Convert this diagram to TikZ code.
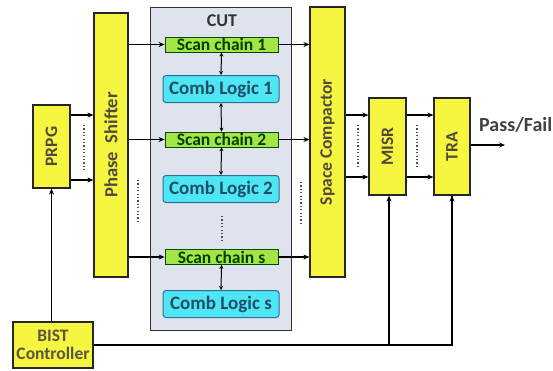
\documentclass[tikz,border=0pt]{standalone}
\usepackage{fontspec}
\setmainfont{Carlito}
\usetikzlibrary{arrows.meta}
\definecolor{ylw}{HTML}{F6F53F}
\definecolor{grn}{HTML}{A4E545}
\definecolor{cyn}{HTML}{4EE6F2}
\definecolor{cutbg}{HTML}{DEE3EE}
\definecolor{cyb}{HTML}{2E6F95}
\begin{document}
\begin{tikzpicture}[x=1pt,y=-1pt,
  ybox/.style={draw=black!85,line width=1.2pt,fill=ylw,inner sep=0pt,font=\bfseries,text=black!80!yellow},
  scbox/.style={draw=black!70!green,line width=0.8pt,fill=grn,minimum width=113pt,minimum height=15pt,inner sep=0pt,font=\bfseries\fontsize{17.5}{17.5}\selectfont,text=black!75!green},
  clbox/.style={draw=cyb,line width=1pt,fill=cyn,rounded corners=3pt,minimum width=116pt,minimum height=27pt,inner sep=0pt,font=\bfseries\fontsize{19}{19}\selectfont,text=cyb!70!black},
  arr/.style={line width=1.3pt,-{Stealth[length=6pt,width=5pt]}},
  darr/.style={line width=1pt,{Stealth[length=4pt,width=4pt]}-{Stealth[length=4pt,width=4pt]}},
  vdots/.style={line width=1.6pt,dash pattern=on 1.2pt off 2.2pt,black!70},
  ln/.style={line width=1.3pt},
  rt/.style={font=\bfseries\fontsize{17.5}{17.5}\selectfont}]
\useasboundingbox (0,0) rectangle (553,370);
% CUT
\node[draw=black!80,line width=1.2pt,fill=cutbg,minimum width=141pt,minimum height=323pt,anchor=north west,inner sep=0pt] (cut) at (150,7) {};
\node[font=\bfseries\fontsize{18}{18}\selectfont,text=black!80] (cutl) at (222,21) {CUT};
% yellow boxes
\node[ybox,rt,minimum width=37pt,minimum height=83pt] (prpg) at (51.5,146.5) {\rotatebox{90}{PRPG}};
\node[ybox,minimum width=34pt,minimum height=264pt,font=\bfseries\fontsize{18.5}{18.5}\selectfont] (ps) at (111,145) {\rotatebox{90}{Phase\hspace{9pt}Shifter}};
\node[ybox,rt,minimum width=35pt,minimum height=270pt] (sc) at (327.5,142) {\rotatebox{90}{Space Compactor}};
\node[ybox,rt,minimum width=37pt,minimum height=97pt] (misr) at (387.5,146.5) {\rotatebox{90}{MISR}};
\node[ybox,rt,minimum width=36pt,minimum height=97pt] (tra) at (452,146.5) {\rotatebox{90}{TRA}};
\node[ybox,minimum width=80pt,minimum height=46pt,align=center,font=\bfseries\fontsize{17.5}{18}\selectfont,text=black!75!yellow] (bist) at (53,345) {BIST\\Controller};
% scan chains and comb logic
\node[scbox] (s1) at (221.5,44.5) {Scan chain 1};
\node[clbox] (c1) at (221,89) {Comb Logic 1};
\node[scbox] (s2) at (221.5,139.5) {Scan chain 2};
\node[clbox] (c2) at (221,189) {Comb Logic 2};
\node[scbox] (ss) at (221.5,257) {Scan chain s};
\node[clbox] (cs) at (221,304) {Comb Logic s};
\draw[darr] (s1.south) -- (c1.north);
\draw[darr] (c1.south) -- (s2.north);
\draw[darr] (s2.south) -- (c2.north);
\draw[darr] (ss.south) -- (cs.north);
\coordinate (d1) at (222,216);
\coordinate (d2) at (222,241);
\draw[vdots] (d1) -- (d2);
% PRPG -> PS
\draw[arr] (prpg.east |- 0,115) -- (ps.west |- 0,115);
\draw[arr] (prpg.east |- 0,180) -- (ps.west |- 0,180);
\coordinate (p1) at (84,125); \coordinate (p2) at (84,171);
\draw[vdots] (p1) -- (p2);
% PS -> scan chains
\draw[arr] (ps.east |- s1) -- (s1.west);
\draw[arr] (ps.east |- s2) -- (s2.west);
\draw[arr] (ps.east |- ss) -- (ss.west);
\coordinate (q1) at (138,180); \coordinate (q2) at (138,221);
\draw[vdots] (q1) -- (q2);
% scan chains -> SC
\draw[arr] (s1.east) -- (sc.west |- s1);
\draw[arr] (s2.east) -- (sc.west |- s2);
\draw[arr] (ss.east) -- (sc.west |- ss);
\coordinate (r1) at (301,182); \coordinate (r2) at (301,223);
\draw[vdots] (r1) -- (r2);
% SC -> MISR
\draw[arr] (sc.east |- 0,115) -- (misr.west |- 0,115);
\draw[arr] (sc.east |- 0,177) -- (misr.west |- 0,177);
\coordinate (m1) at (358,125); \coordinate (m2) at (358,167);
\draw[vdots] (m1) -- (m2);
% MISR -> TRA
\draw[arr] (misr.east |- 0,115) -- (tra.west |- 0,115);
\draw[arr] (misr.east |- 0,177) -- (tra.west |- 0,177);
\coordinate (t1) at (417,125); \coordinate (t2) at (417,167);
\draw[vdots] (t1) -- (t2);
% TRA -> pass/fail
\coordinate (pf) at (505,145);
\draw[arr] (tra.east |- pf) -- (pf);
\node[anchor=west,font=\bfseries\fontsize{20}{20}\selectfont,text=black!75,inner sep=0pt] (pfl) at (479,125) {Pass/Fail};
% BIST controller connections
\draw[arr] (bist.north -| prpg) -- (prpg.south);
\coordinate (bj) at (389,345);
\draw[ln] (bist.east) -- (tra.south |- bist.east) -- (tra.south);
\draw[arr] (tra.south |- bist.east) -- (tra.south);
\draw[arr] (bj) -- (misr.south -| bj);
\end{tikzpicture}
\end{document}
